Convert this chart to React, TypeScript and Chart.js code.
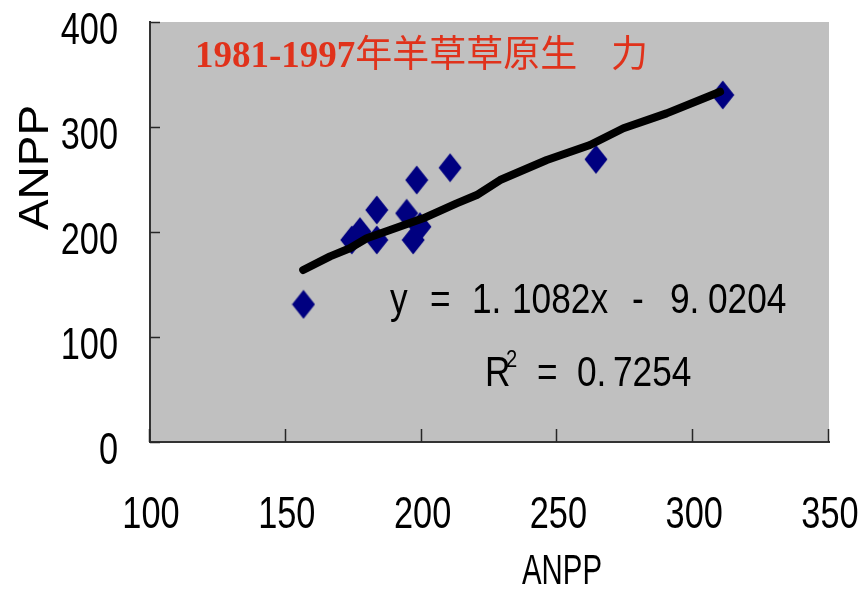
import React, { useEffect, useRef } from "react";
import { Chart, registerables } from "chart.js";

Chart.register(...registerables);

// ---- data ----
const chartTitleNumber = "1981-1997";
const chartTitleText = "年羊草草原生   力";
const xAxisTitle = "ANPP";
const yAxisTitle = "ANPP";
const xTickValues = [100, 150, 200, 250, 300, 350];
const yTickValues = [0, 100, 200, 300, 400];

const observedX = [156.5, 174.3, 177.3, 183.5, 183.5, 194.5, 196.9, 199.4, 198.2, 210.5, 264.2, 310.9];
const observedY = [131.1, 192.4, 200.3, 192.4, 221.0, 217.8, 192.4, 205.0, 249.5, 261.2, 269.2, 330.5];

const fitLineX = [156.4, 166.3, 173.6, 179.8, 188.4, 200.6, 212.9, 220.3, 228.9, 246.1, 262.0, 274.3, 290.2, 309.9];
const fitLineY = [163.8, 176.8, 184.5, 194.0, 201.9, 213.0, 227.3, 235.2, 249.5, 268.6, 282.9, 298.8, 313.0, 333.6];

// equation "y = 1. 1082x -  9. 0204", split into its printed tokens
const equationTokens = ["y", "=", "1.", "1082x", "-", "9.", "0204"];
// "R² = 0. 7254"
const r2Tokens = ["R", "=", "0.", "7254"];
const r2Sup = "2";

const SANS = "'Liberation Sans', Arial, sans-serif";

function makeDiamond(): HTMLCanvasElement {
  const c = document.createElement("canvas");
  c.width = 24;
  c.height = 30;
  const g = c.getContext("2d")!;
  g.fillStyle = "#000080";
  g.beginPath();
  g.moveTo(12, 0.5);
  g.lineTo(23.5, 15);
  g.lineTo(12, 29.5);
  g.lineTo(0.5, 15);
  g.closePath();
  g.fill();
  return c;
}

// draw text compressed horizontally by factor sx, anchored per align
function narrowText(
  ctx: CanvasRenderingContext2D,
  text: string,
  x: number,
  y: number,
  sx: number,
  align: "left" | "right" | "center" = "left"
) {
  ctx.save();
  ctx.translate(x, y);
  ctx.scale(sx, 1);
  ctx.textAlign = align;
  ctx.fillText(text, 0, 0);
  ctx.restore();
}

function fitText(ctx: CanvasRenderingContext2D, text: string, x: number, y: number, width: number) {
  const w = ctx.measureText(text).width;
  ctx.save();
  ctx.translate(x, y);
  ctx.scale(width / w, 1);
  ctx.textAlign = "left";
  ctx.fillText(text, 0, 0);
  ctx.restore();
}

const decorPlugin = {
  id: "decor",
  beforeDraw(chart: any) {
    const { ctx, chartArea: a } = chart;
    ctx.save();
    ctx.fillStyle = "#C0C0C0";
    ctx.fillRect(a.left, a.top, a.right - a.left, a.bottom - a.top);
    ctx.restore();
  },
  afterDraw(chart: any) {
    const { ctx, chartArea: a, scales } = chart;
    ctx.save();
    // inside tick marks
    ctx.strokeStyle = "#262626";
    ctx.lineWidth = 1.5;
    yTickValues.forEach((v) => {
      const py = Math.round(scales.y.getPixelForValue(v)) + 0.5;
      ctx.beginPath();
      ctx.moveTo(a.left, py);
      ctx.lineTo(a.left + 10, py);
      ctx.stroke();
    });
    xTickValues.forEach((v) => {
      const px = Math.round(scales.x.getPixelForValue(v)) - 0.5;
      ctx.beginPath();
      ctx.moveTo(px, a.bottom);
      ctx.lineTo(px, a.bottom - 13);
      ctx.stroke();
    });

    // tick labels
    ctx.fillStyle = "#000";
    ctx.textBaseline = "alphabetic";
    ctx.font = `44px ${SANS}`;
    yTickValues.forEach((v) => {
      const py = scales.y.getPixelForValue(v);
      narrowText(ctx, String(v), a.left - 32, py + 22, 0.78, "right");
    });
    xTickValues.forEach((v) => {
      const px = scales.x.getPixelForValue(v);
      narrowText(ctx, String(v), px + 1, 528, 0.78, "center");
    });

    // title inside plot
    ctx.fillStyle = "#E0321B";
    ctx.textAlign = "left";
    const tx = a.left + 45;
    const ty = a.top + 45;
    ctx.font = "bold 37px 'Liberation Serif', 'Times New Roman', serif";
    ctx.fillText(chartTitleNumber, tx, ty);
    const nw = ctx.measureText(chartTitleNumber).width;
    ctx.font = "37px 'Noto Sans CJK SC', sans-serif";
    const parts = chartTitleText.split(/\s+/);
    ctx.fillText(parts[0], tx + nw, ty);
    ctx.fillText(parts[1], a.left + 461, ty);

    // regression equation
    ctx.fillStyle = "#000";
    ctx.font = `42px ${SANS}`;
    const eqX = [240, 280, 322, 362, 482, 520, 558];
    equationTokens.forEach((t, i) => narrowText(ctx, t, a.left + eqX[i], 313, 0.84));
    const r2X = [335, 387, 427, 463];
    r2Tokens.forEach((t, i) => narrowText(ctx, t, a.left + r2X[i], 386, 0.84));
    ctx.font = `24px ${SANS}`;
    narrowText(ctx, r2Sup, a.left + 356, 367, 0.84);

    // axis titles
    ctx.font = `42px ${SANS}`;
    fitText(ctx, xAxisTitle, 522, 584, 80);
    ctx.save();
    ctx.translate(48, 230);
    ctx.rotate(-Math.PI / 2);
    fitText(ctx, yAxisTitle, 0, 0, 125);
    ctx.restore();
    ctx.restore();
  },
};

export default function App() {
  const ref = useRef<HTMLCanvasElement | null>(null);
  useEffect(() => {
    document.body.style.margin = "0";
    const canvas = ref.current!;
    const diamond = makeDiamond();
    const chart = new Chart(canvas, {
      type: "scatter",
      data: {
        datasets: [
          {
            type: "line",
            label: "fit",
            data: fitLineX.map((x, i) => ({ x, y: fitLineY[i] })),
            borderColor: "#000",
            borderWidth: 8,
            borderCapStyle: "round",
            borderJoinStyle: "round",
            pointRadius: 0,
            fill: false,
            tension: 0,
            order: 0,
          } as any,
          {
            label: "ANPP",
            data: observedX.map((x, i) => ({ x, y: observedY[i] })),
            pointStyle: diamond as any,
            pointRadius: 12,
            order: 1,
          },
        ],
      },
      options: {
        animation: false,
        responsive: false,
        events: [],
        layout: { padding: { top: 22, right: 34, left: 0, bottom: 0 } },
        plugins: { legend: { display: false }, tooltip: { enabled: false }, title: { display: false } },
        scales: {
          x: {
            type: "linear",
            min: 100,
            max: 350,
            afterFit: (s: any) => {
              s.height = 150;
              s.paddingLeft = 0;
              s.paddingRight = 0;
            },
            afterBuildTicks: (s: any) => {
              s.ticks = xTickValues.map((v) => ({ value: v }));
            },
            grid: { display: false, drawTicks: false },
            border: { display: true, color: "#333", width: 2 },
            ticks: { display: false },
          },
          y: {
            type: "linear",
            min: 0,
            max: 400,
            afterFit: (s: any) => {
              s.width = 150;
              s.paddingTop = 0;
              s.paddingBottom = 0;
            },
            afterBuildTicks: (s: any) => {
              s.ticks = yTickValues.map((v) => ({ value: v }));
            },
            grid: { display: false, drawTicks: false },
            border: { display: true, color: "#333", width: 2 },
            ticks: { display: false },
          },
        },
      },
      plugins: [decorPlugin],
    });
    return () => chart.destroy();
  }, []);
  return <canvas ref={ref} width={863} height={592} style={{ display: "block" }} />;
}
